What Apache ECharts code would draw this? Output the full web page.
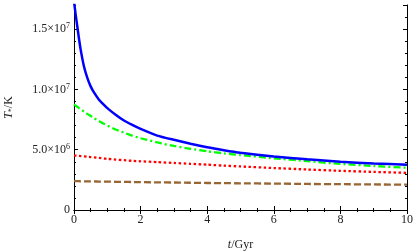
<!DOCTYPE html>
<html>
<head>
<meta charset="utf-8">
<script src="https://cdn.jsdelivr.net/npm/echarts@6/dist/echarts.min.js"></script>
<style>html,body{margin:0;padding:0;background:#fff}#c{width:415px;height:251px}</style>
</head>
<body>
<div id="c"></div>
<script>
// time in Gyr
var tGyr = [0, 0.05, 0.1, 0.15, 0.2, 0.3, 0.4, 0.5, 0.6, 0.75, 0.9, 1, 1.25, 1.5, 1.75, 2, 2.5, 3, 3.5, 4, 4.5, 5, 6, 7, 8, 9, 10];
// temperatures in units of 1e6 K
var blueT  = [17.3, 16.2, 15.2, 14.2, 13.3, 11.9, 10.95, 10.25, 9.75, 9.15, 8.72, 8.45, 7.9, 7.42, 7.05, 6.72, 6.17, 5.82, 5.5, 5.2, 4.96, 4.75, 4.44, 4.2, 4.0, 3.86, 3.75];
var greenT = [8.75, 8.65, 8.55, 8.45, 8.36, 8.16, 7.97, 7.8, 7.62, 7.38, 7.15, 7.0, 6.68, 6.41, 6.16, 5.95, 5.6, 5.31, 5.07, 4.87, 4.7, 4.55, 4.29, 4.05, 3.82, 3.65, 3.5];
var redT   = [4.52, 4.51, 4.5, 4.49, 4.47, 4.45, 4.42, 4.39, 4.37, 4.32, 4.27, 4.24, 4.18, 4.13, 4.08, 4.04, 3.97, 3.9, 3.83, 3.76, 3.68, 3.61, 3.48, 3.36, 3.25, 3.16, 3.08];
var brownT = [2.39, 2.39, 2.39, 2.39, 2.38, 2.38, 2.38, 2.37, 2.37, 2.36, 2.36, 2.35, 2.34, 2.33, 2.32, 2.31, 2.29, 2.28, 2.26, 2.24, 2.23, 2.21, 2.19, 2.16, 2.14, 2.12, 2.10];
// y tick labels (value in 1e6 K -> label)
var yTickValues = [0, 5, 10, 15];
var yTickLabels = ['0', '5.0\u00d710{s|6}', '1.0\u00d710{s|7}', '1.5\u00d710{s|7}'];

function pairs(ys) { return tGyr.map(function (t, i) { return [t, ys[i]]; }); }

var FONT = "'Liberation Serif', 'Times New Roman', serif";
var TXT = '#222';

var chart = echarts.init(document.getElementById('c'), null, {renderer: 'canvas'});
var baseLine = {show: true, lineStyle: {color: '#000', width: 1}};
var yMin = 0, yMax = 17;
chart.setOption({
  animation: false,
  grid: {left: 74, right: 8, top: 5, bottom: 41, containLabel: false, outerBoundsMode: 'none'},
  xAxis: [
    {
      type: 'value', min: 0, max: 10, interval: 2, position: 'bottom',
      axisLine: baseLine,
      axisTick: {show: true, inside: true, length: 4, lineStyle: {color: '#000'}},
      minorTick: {show: true, splitNumber: 4, length: 2, lineStyle: {color: '#000'}},
      splitLine: {show: false},
      axisLabel: {color: TXT, fontFamily: FONT, fontSize: 12, margin: 4},
      name: '{i|t}/Gyr', nameLocation: 'middle', nameGap: 29,
      nameTextStyle: {color: TXT, fontFamily: FONT, fontSize: 12,
        rich: {i: {fontStyle: 'italic', fontFamily: FONT, fontSize: 12, color: TXT}}}
    },
    {
      type: 'value', min: 0, max: 10, interval: 2, position: 'top',
      axisLine: baseLine,
      axisTick: {show: true, inside: true, length: 4, lineStyle: {color: '#000'}},
      minorTick: {show: true, splitNumber: 4, length: 2, lineStyle: {color: '#000'}},
      splitLine: {show: false}, axisLabel: {show: false}
    }
  ],
  yAxis: [
    {
      type: 'value', min: yMin, max: yMax, interval: 5, position: 'left',
      axisLine: baseLine,
      axisTick: {show: true, inside: true, length: 4, lineStyle: {color: '#000'}},
      splitLine: {show: false},
      axisLabel: {
        color: TXT, fontFamily: FONT, fontSize: 12, margin: 4, showMaxLabel: false,
        formatter: function (v) {
          var k = yTickValues.indexOf(v);
          return k >= 0 ? yTickLabels[k] : '';
        },
        rich: {s: {fontSize: 8, fontFamily: FONT, color: TXT, verticalAlign: 'top', padding: [0, 0, 6, 0]}}
      },
      name: '{i|T}{sub|*}/K', nameLocation: 'middle', nameGap: 58,
      nameTextStyle: {color: TXT, fontFamily: FONT, fontSize: 12,
        rich: {
          i: {fontStyle: 'italic', fontFamily: FONT, fontSize: 12, color: TXT},
          sub: {fontFamily: FONT, fontSize: 8, color: TXT, verticalAlign: 'bottom', padding: [6, 0, 0, 0]}
        }}
    },
    {
      type: 'value', min: yMin, max: yMax, interval: 1, position: 'left',
      axisLine: {show: false},
      axisTick: {show: true, inside: true, length: 2, lineStyle: {color: '#000'}},
      splitLine: {show: false}, axisLabel: {show: false}
    },
    {
      type: 'value', min: yMin, max: yMax, interval: 5, position: 'right',
      axisLine: baseLine,
      axisTick: {show: true, inside: true, length: 4, lineStyle: {color: '#000'}},
      splitLine: {show: false}, axisLabel: {show: false}
    },
    {
      type: 'value', min: yMin, max: yMax, interval: 1, position: 'right',
      axisLine: {show: false},
      axisTick: {show: true, inside: true, length: 2, lineStyle: {color: '#000'}},
      splitLine: {show: false}, axisLabel: {show: false}
    }
  ],
  series: [
    {type: 'line', data: pairs(brownT), showSymbol: false, smooth: 0.2, z: 2,
      lineStyle: {color: '#996633', width: 2.3, type: [7, 3]}},
    {type: 'line', data: pairs(redT), showSymbol: false, smooth: 0.2, z: 3,
      lineStyle: {color: '#ff0000', width: 2.3, type: [2.5, 2.5]}},
    {type: 'line', data: pairs(greenT), showSymbol: false, smooth: 0.2, z: 4,
      lineStyle: {color: '#00ff00', width: 2.3, type: [7, 3, 2, 3]}},
    {type: 'line', data: pairs(blueT), showSymbol: false, smooth: 0.2, z: 5,
      lineStyle: {color: '#0000ff', width: 2.5}}
  ]
});
</script>
</body>
</html>
